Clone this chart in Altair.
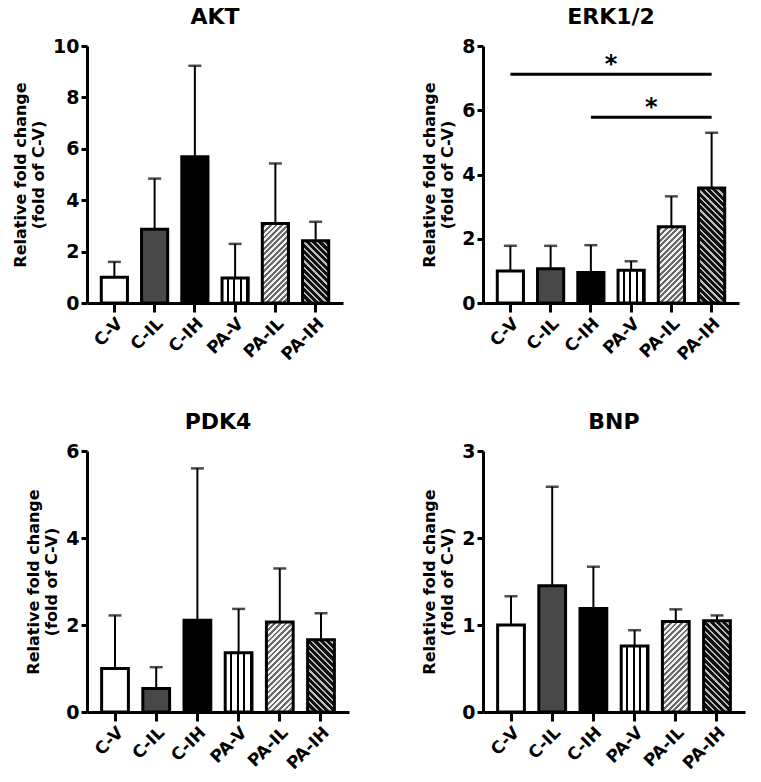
import math
import altair as alt
import pandas as pd

# Treatment groups shown on every panel
groups = ["C-V", "C-IL", "C-IH", "PA-V", "PA-IL", "PA-IH"]

# Mean relative fold change (fold of C-V) and SD for each marker
akt_mean = [1.0, 2.87, 5.69, 0.97, 3.09, 2.42]
akt_sd = [0.60, 1.97, 3.54, 1.33, 2.34, 0.74]

erk_mean = [1.0, 1.07, 0.95, 1.02, 2.37, 3.58]
erk_sd = [0.78, 0.71, 0.85, 0.28, 0.95, 1.72]

pdk4_mean = [1.0, 0.54, 2.11, 1.36, 2.07, 1.66]
pdk4_sd = [1.22, 0.49, 3.49, 1.01, 1.23, 0.61]

bnp_mean = [1.0, 1.45, 1.19, 0.76, 1.04, 1.05]
bnp_sd = [0.33, 1.14, 0.48, 0.18, 0.14, 0.06]

# Significance brackets for ERK1/2: (from group, to group, height)
erk_brackets = [("C-V", "PA-IH", 7.12), ("C-IH", "PA-IH", 5.78)]

FONT = "DejaVu Sans"
BAND = 0.65


def stripes(w, h, period, line_frac, bg, fg, direction):
    """Linear gradient with hard stops that renders as a hatch pattern."""
    if direction == "|":
        span = w
        coords = dict(x1=0, y1=0, x2=1, y2=0)
    else:
        k = h / w
        s = (1 + k) / (1 + k * k)
        span = (w + h) / math.sqrt(2)
        if direction == "/":
            coords = dict(x1=0, y1=0, x2=s, y2=s * k)
        else:
            coords = dict(x1=0, y1=1, x2=s, y2=1 - s * k)
    n = max(span / period, 1)
    step = 1.0 / n
    stops = []
    i = 0
    while i * step < 1:
        a = i * step
        b = min(a + step * (1 - line_frac), 1)
        c = min(a + step, 1)
        stops += [
            {"offset": a, "color": bg},
            {"offset": b, "color": bg},
            {"offset": b, "color": fg},
            {"offset": c, "color": fg},
        ]
        i += 1
    return {"gradient": "linear", **coords, "stops": stops}


def bar_fill(group, w, h):
    if group == "C-V":
        return "white"
    if group == "C-IL":
        return "#484848"
    if group == "C-IH":
        return "black"
    if group == "PA-V":
        return stripes(w, h, w / 4, 0.3, "white", "black", "|")
    if group == "PA-IL":
        return stripes(w, h, 4.0, 0.5, "#f2f2f2", "#6a6a6a", "/")
    return stripes(w, h, 4.5, 0.35, "#111111", "#bdbdbd", "\\")


def panel(title, means, sds, ymax, ystep, W, H, brackets=None):
    df = pd.DataFrame({
        "group": groups,
        "mean": means,
        "upper": [m + s for m, s in zip(means, sds)],
    })
    xscale = alt.Scale(domain=groups, paddingInner=0, paddingOuter=0.18)
    xaxis = alt.Axis(labelAngle=-45, tickSize=9, labelFontSize=17, labelPadding=3)
    x = alt.X("group:N", sort=groups, scale=xscale, axis=xaxis, title=None)
    yscale = alt.Scale(domain=[0, ymax], nice=False, zero=True)
    yaxis = alt.Axis(values=list(range(0, ymax + 1, ystep)), tickSize=6,
                     labelFontSize=19, labelPadding=2, titleFontSize=16,
                     titlePadding=6, titleLineHeight=18)
    ytitle = ["Relative fold change", "(fold of C-V)"]

    base = alt.Chart(df)
    err = base.mark_rule(color="black", strokeWidth=2).encode(
        x=x, y=alt.Y("mean:Q", scale=yscale, axis=yaxis, title=ytitle), y2="upper:Q"
    )
    cap = base.mark_tick(color="black", thickness=2.5, size=13).encode(
        x=x, y=alt.Y("upper:Q", scale=yscale, axis=yaxis, title=ytitle)
    )
    layers = [err, cap]
    bw = W / (len(groups) + 0.36) * BAND
    for g, m in zip(groups, means):
        h = m / ymax * H
        layers.append(
            base.transform_filter(alt.datum.group == g)
            .mark_bar(width={"band": BAND}, fill=bar_fill(g, bw, h),
                      stroke="black", strokeWidth=3)
            .encode(x=x, y=alt.Y("mean:Q", scale=yscale, axis=yaxis, title=ytitle))
        )
    if brackets:
        rows = []
        for a, b, yv in brackets:
            i, j = groups.index(a), groups.index(b)
            mid = (i + j) / 2
            k = int(math.floor(mid))
            rows.append({"start": a, "end": b, "y": yv, "mid": groups[k],
                         "half": mid - k})
        bdf = pd.DataFrame(rows)
        bx = alt.X("start:N", sort=groups, scale=xscale, axis=xaxis, title=None)
        by = alt.Y("y:Q", scale=yscale, axis=yaxis, title=ytitle)
        layers.append(
            alt.Chart(bdf).mark_rule(color="black", strokeWidth=3)
            .encode(x=bx, x2="end:N", y=by)
        )
        for half in sorted(set(bdf["half"])):
            layers.append(
                alt.Chart(bdf).transform_filter(alt.datum.half == half)
                .mark_text(text="*", font=FONT, fontWeight="bold", fontSize=24,
                           baseline="alphabetic", dy=-2, color="black")
                .encode(x=alt.X("mid:N", sort=groups, scale=xscale, axis=xaxis,
                                title=None, bandPosition=half + 0.5),
                        y=by)
            )
    return alt.layer(*layers).properties(
        width=W, height=H,
        title=alt.Title(title, fontSize=22, font=FONT, fontWeight="bold",
                        offset=8, frame="group", anchor="middle"),
    )


top = alt.hconcat(
    panel("AKT", akt_mean, akt_sd, 10, 2, 256, 257),
    panel("ERK1/2", erk_mean, erk_sd, 8, 2, 256, 257, erk_brackets),
    spacing=78,
)
bottom = alt.hconcat(
    panel("PDK4", pdk4_mean, pdk4_sd, 6, 2, 262, 261),
    panel("BNP", bnp_mean, bnp_sd, 3, 1, 262, 261),
    spacing=72,
)

chart = (
    alt.vconcat(top, bottom, spacing=48)
    .properties(padding={"left": 12, "top": 6, "right": 5, "bottom": 5},
                background="white")
    .configure_view(stroke=None)
    .configure_axis(
        grid=False, domainColor="black", domainWidth=3, tickColor="black",
        tickWidth=3, labelColor="black", titleColor="black",
        labelFont=FONT, titleFont=FONT, labelFontWeight="bold",
        titleFontWeight="bold",
    )
    .configure_title(color="black")
)

chart.save("out.html", embed_options={"renderer": "svg", "actions": False})
